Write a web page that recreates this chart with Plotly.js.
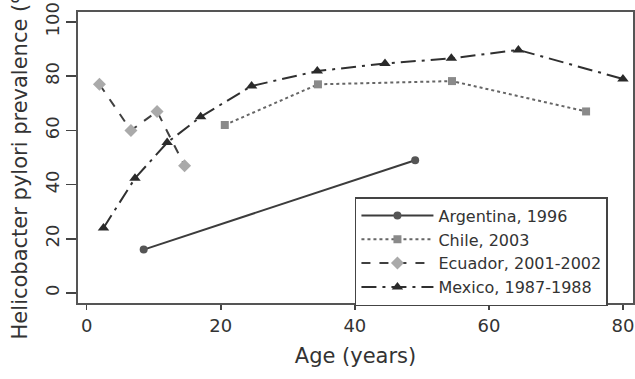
<!DOCTYPE html>
<html>
<head>
<meta charset="utf-8">
<script src="https://cdn.plot.ly/plotly-3.0.1.min.js"></script>
<style>
html,body{margin:0;padding:0;background:#fff;}
#chart{width:635px;height:379px;}
</style>
</head>
<body>
<div id="chart"></div>
<script>
var argentinaAge = [8.5, 49];
var argentinaPrev = [16, 49];

var chileAge = [20.6, 34.5, 54.5, 74.5];
var chilePrev = [62, 77, 78.2, 67];

var ecuadorAge = [1.9, 6.6, 10.5, 14.6];
var ecuadorPrev = [77, 60, 67, 47];

var mexicoAge = [2.5, 7.2, 12, 17, 24.6, 34.4, 44.5, 54.4, 64.4, 80];
var mexicoPrev = [24, 42.3, 55.5, 65, 76.4, 81.9, 84.7, 86.6, 89.7, 79];

var seriesNames = ["Argentina, 1996", "Chile, 2003", "Ecuador, 2001-2002", "Mexico, 1987-1988"];
var xTicks = [0, 20, 40, 60, 80];
var yTicks = [0, 20, 40, 60, 80, 100];

var FONT = "DejaVu Sans, Liberation Sans, Arial, sans-serif";

var traces = [
  {x: argentinaAge, y: argentinaPrev, name: seriesNames[0], mode: "lines+markers",
   line: {color: "#3c3c3c", width: 2, dash: "solid"},
   marker: {symbol: "circle", size: 8, color: "#555555"}},
  {x: chileAge, y: chilePrev, name: seriesNames[1], mode: "lines+markers",
   line: {color: "#666666", width: 2, dash: "dot"},
   marker: {symbol: "square", size: 8, color: "#8a8a8a"}},
  {x: ecuadorAge, y: ecuadorPrev, name: seriesNames[2], mode: "lines+markers",
   line: {color: "#404040", width: 2, dash: "dash"},
   marker: {symbol: "diamond", size: 10, color: "#aaaaaa"}},
  {x: mexicoAge, y: mexicoPrev, name: seriesNames[3], mode: "lines+markers",
   line: {color: "#303030", width: 2, dash: "longdashdot"},
   marker: {symbol: "triangle-up", size: 10, color: "#2a2a2a"}}
];

var layout = {
  width: 635, height: 379,
  margin: {l: 78, r: 2, t: 12, b: 76},
  paper_bgcolor: "#ffffff",
  plot_bgcolor: "#ffffff",
  font: {family: FONT, color: "#333333", size: 18},
  showlegend: true,
  legend: {
    x: 0.499, y: 0.364, xanchor: "left", yanchor: "top",
    bgcolor: "#ffffff", bordercolor: "#444444", borderwidth: 1.5,
    font: {family: FONT, size: 16, color: "#333333"},
    itemwidth: 72, tracegroupgap: 0
  },
  xaxis: {
    range: [-1.3, 81.5],
    tickvals: xTicks, ticktext: xTicks.map(String),
    ticks: "outside", ticklen: 5, tickwidth: 1.5, tickcolor: "#444444",
    showline: true, linecolor: "#555555", linewidth: 2, mirror: true,
    showgrid: false, zeroline: false,
    tickfont: {family: FONT, size: 18, color: "#333333"},
    title: {text: "Age (years)", font: {family: FONT, size: 21, color: "#333333"}, standoff: 14}
  },
  yaxis: {
    range: [-3.7, 103.7],
    tickvals: yTicks, ticktext: yTicks.map(String),
    tickangle: -90,
    ticks: "outside", ticklen: 10, tickwidth: 1.5, tickcolor: "#444444",
    showline: true, linecolor: "#555555", linewidth: 2, mirror: true,
    showgrid: false, zeroline: false,
    tickfont: {family: FONT, size: 18, color: "#333333"},
    title: {text: "Helicobacter pylori prevalence (%)", font: {family: FONT, size: 21, color: "#333333"}, standoff: 8}
  }
};

Plotly.newPlot("chart", traces, layout, {displayModeBar: false, staticPlot: true});
</script>
</body>
</html>
